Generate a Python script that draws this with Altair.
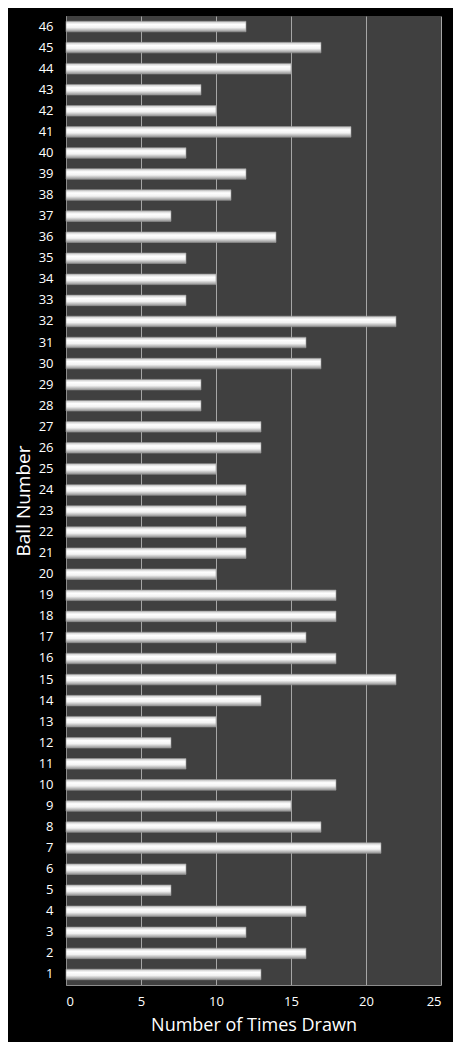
import altair as alt
import pandas as pd

# ball numbers 1..46 and how often each was drawn
balls = list(range(1, 47))
times_drawn = [
    13, 16, 12, 16, 7, 8, 21, 17, 15, 18,
    8, 7, 10, 13, 22, 18, 16, 18, 18, 10,
    12, 12, 12, 12, 10, 13, 13, 9, 9, 17,
    16, 22, 8, 10, 8, 14, 7, 11, 12, 8,
    19, 10, 9, 15, 17, 12,
]
x_ticks = [0, 5, 10, 15, 20, 25]

df = pd.DataFrame({"ball": balls, "drawn": times_drawn})

FONT = "Open Sans"

bar_fill = alt.Gradient(
    gradient="linear",
    x1=0, x2=0, y1=0, y2=1,
    stops=[
        alt.GradientStop(color="#c4c4c4", offset=0),
        alt.GradientStop(color="#ffffff", offset=0.3),
        alt.GradientStop(color="#f2f2f2", offset=0.6),
        alt.GradientStop(color="#919191", offset=1),
    ],
)

chart = (
    alt.Chart(df)
    .mark_bar(fill=bar_fill, stroke="#9a9a9a", strokeWidth=0.6)
    .encode(
        x=alt.X(
            "drawn:Q",
            title="Number of Times Drawn",
            scale=alt.Scale(domain=[0, 25], nice=False),
            axis=alt.Axis(values=x_ticks, format="d"),
        ),
        y=alt.Y(
            "ball:O",
            title="Ball Number",
            sort="descending",
            scale=alt.Scale(paddingInner=0.5, paddingOuter=0.25),
        ),
    )
    .properties(
        width=375,
        height=969,
        background="black",
        padding={"left": 58, "top": 8, "right": 12, "bottom": 57},
        autosize=alt.AutoSizeParams(type="none"),
    )
    .configure_view(fill="#404040", strokeWidth=0)
    .configure_axis(
        labelColor="white",
        titleColor="white",
        labelFont=FONT,
        titleFont=FONT,
        titleFontWeight="normal",
        domainColor="#8c8c8c",
        ticks=False,
    )
    .configure_axisX(
        grid=True,
        gridColor="#a6a6a6",
        gridWidth=1,
        labelFontSize=13,
        labelPadding=10,
        titleFontSize=18,
        titlePadding=8,
    )
    .configure_axisY(
        grid=False,
        labelFontSize=13,
        labelPadding=13,
        titleFontSize=19,
        titlePadding=5,
    )
)

chart.save("out.html", embed_options={"renderer": "svg", "actions": False})
